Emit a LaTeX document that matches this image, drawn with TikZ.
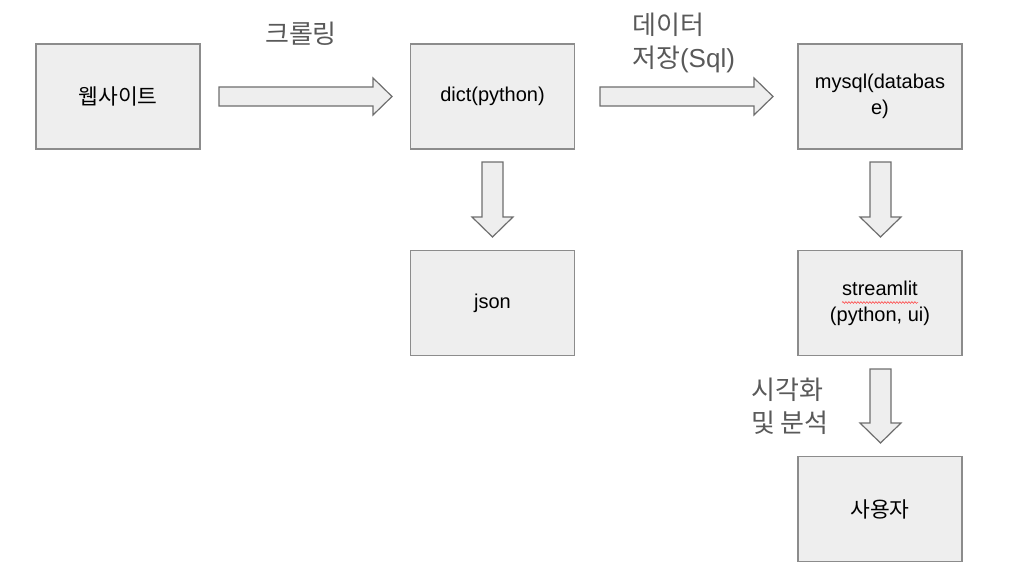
\documentclass[tikz,border=0pt]{standalone}
\usepackage{fontspec}
\setmainfont{Liberation Sans}
\newfontfamily\cjk{Noto Sans CJK KR}
\usetikzlibrary{decorations.pathmorphing}
\definecolor{boxfill}{HTML}{EEEEEE}
\definecolor{boxline}{HTML}{8C8C8C}
\definecolor{arrline}{HTML}{6E6E6E}
\definecolor{labelgray}{HTML}{595959}
\tikzset{
  stagebox/.style={draw=boxline, line width=1.3pt, fill=boxfill, minimum width=164pt, minimum height=105pt, inner sep=0pt, align=center, font=\fontsize{20}{26}\selectfont, text=black},
  boxcjk/.style={font=\cjk\fontsize{21.5}{26}\selectfont},
  blockarrow/.style={draw=arrline, line width=1.2pt, fill=boxfill, line join=miter},
  steplabel/.style={text=labelgray, font=\fontsize{26}{33}\selectfont, inner sep=0pt, align=left},
}
\begin{document}
\begin{tikzpicture}[x=1pt, y=-1pt]
\useasboundingbox (0,0) rectangle (1018,586);
% boxes
\node[stagebox, boxcjk] (web) at (118,96.5) {웹사이트};
\node[stagebox] (dict) at (492.5,96.5) {dict(python)};
\node[stagebox] (mysql) at (880,96.5) {mysql(databas\\e)};
\node[stagebox] (json) at (492.5,303) {json};
\node[stagebox] (stream) at (880,303) {streamlit\\(python, ui)};
\node[stagebox, boxcjk] (user) at (880,509) {사용자};
% spellcheck squiggle under streamlit
\coordinate (sqA) at (842,302.5);
\coordinate (sqB) at (918,302.5);
\draw[red!80!white, line width=0.5pt, decorate, decoration={snake, amplitude=0.9pt, segment length=3pt}] (sqA) -- (sqB);
% block arrows
\draw[blockarrow] (219,87) -- (373,87) -- (373,78) -- (392,96.5) -- (373,115) -- (373,106) -- (219,106) -- cycle;
\draw[blockarrow] (600,87) -- (754,87) -- (754,78) -- (773,96.5) -- (754,115) -- (754,106) -- (600,106) -- cycle;
\draw[blockarrow] (482,162) -- (503,162) -- (503,217) -- (513,217) -- (492.5,237) -- (472,217) -- (482,217) -- cycle;
\draw[blockarrow] (870,162) -- (891,162) -- (891,217) -- (901,217) -- (880.5,237) -- (860,217) -- (870,217) -- cycle;
\draw[blockarrow] (870,369) -- (891,369) -- (891,423) -- (901,423) -- (880.5,443) -- (860,423) -- (870,423) -- cycle;
% labels
\node[steplabel] (crawl) at (301,34) {{\cjk 크롤링}};
\node[steplabel, anchor=west] (store) at (632,42.5) {{\cjk 데이터}\\{\cjk 저장}(Sql)};
\node[steplabel, anchor=west] (vis) at (751,406.5) {{\cjk 시각화}\\{\cjk 및 분석}};
\end{tikzpicture}
\end{document}
